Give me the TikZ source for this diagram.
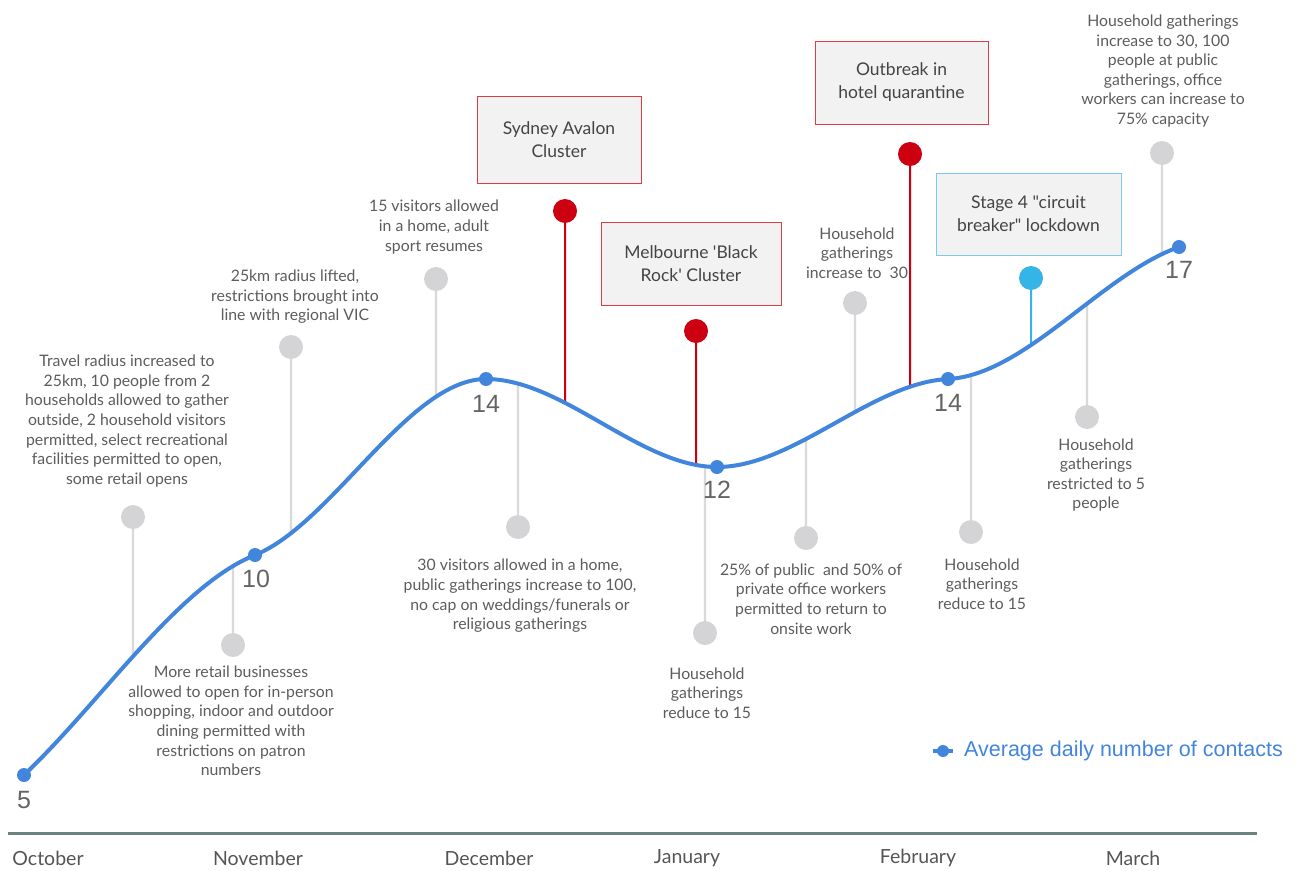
\documentclass[tikz,border=0pt]{standalone}
\usepackage{fontspec}
\setmainfont{Lato}[Ligatures=TeXOff]
\newfontfamily\arialf{Liberation Sans}
\usetikzlibrary{intersections}
\definecolor{annot}{RGB}{92,92,92}
\definecolor{gdotc}{RGB}{212,212,214}
\definecolor{gstemc}{RGB}{217,217,217}
\definecolor{redc}{RGB}{204,0,16}
\definecolor{redbox}{RGB}{224,60,69}
\definecolor{boxfill}{RGB}{242,242,242}
\definecolor{bluebox}{RGB}{124,200,238}
\definecolor{lblue}{RGB}{53,180,232}
\definecolor{curvec}{RGB}{66,133,221}
\definecolor{axisc}{RGB}{110,130,130}
\definecolor{valc}{RGB}{100,100,100}
\definecolor{monthc}{RGB}{85,85,85}
\definecolor{boxtext}{RGB}{68,68,68}
\tikzset{
  gdot/.style={circle,fill=gdotc,minimum size=24pt,inner sep=0},
  rdot/.style={circle,fill=redc,minimum size=24pt,inner sep=0},
  bdot/.style={circle,fill=lblue,minimum size=24pt,inner sep=0},
  gstem/.style={draw=gstemc,line width=2.4pt},
  rstem/.style={draw=redc,line width=2pt},
  bstem/.style={draw=lblue,line width=2pt},
  ann/.style={text=annot,font=\fontsize{15.8}{19.6}\selectfont,align=center,inner sep=0},
  evbox/.style={draw=redbox,fill=boxfill,line width=1pt,text=boxtext,align=center,font=\fontsize{17.5}{23}\selectfont,inner sep=0},
  val/.style={text=valc,font=\arialf\fontsize{25}{28}\selectfont,inner sep=0},
  month/.style={text=monthc,font=\fontsize{19.5}{22}\selectfont,inner sep=0},
  cdot/.style={circle,fill=curvec,minimum size=14pt,inner sep=0}
}
\begin{document}
\begin{tikzpicture}[x=1pt,y=-1pt]
\useasboundingbox (0,0) rectangle (1300,870);
% the curve path (named, drawn later)
\path[name path=curve] (24,775) .. controls (101,702) and (178,586) .. (255,555)
  .. controls (332,524) and (409,379) .. (486,379)
  .. controls (563,379) and (640,467) .. (717,467)
  .. controls (794,467) and (871,383) .. (948,379)
  .. controls (1025,375) and (1102,274) .. (1179,247);
\foreach \n/\x in {s1/133,s2/233,s3/291,s4/436,s5/518,s6/705,s7/806,s8/855,s9/971,s10/1087,s11/1162,r1/565,r2/696,r3/910,b1/1031}{
  \path[name path=vl] (\x,0) -- (\x,870);
  \path[name intersections={of=curve and vl, by={i\n}}];
}
% grey event circles
\node[gdot] (s1) at (133,517) {};
\node[gdot] (s2) at (233,645) {};
\node[gdot] (s3) at (291,347) {};
\node[gdot] (s4) at (436,279) {};
\node[gdot] (s5) at (518,527) {};
\node[gdot] (s6) at (705,633) {};
\node[gdot] (s7) at (806,538) {};
\node[gdot] (s8) at (855,303) {};
\node[gdot] (s9) at (971,532) {};
\node[gdot] (s10) at (1087,417) {};
\node[gdot] (s11) at (1162,153) {};
\node[rdot] (r1) at (565,211) {};
\node[rdot] (r2) at (696,331) {};
\node[rdot] (r3) at (910,154) {};
\node[bdot] (b1) at (1031,278) {};
\foreach \n in {s1,s2,s3,s4,s5,s6,s7,s8,s9,s10,s11}{\draw[gstem] (\n) -- (i\n);}
\foreach \n in {r1,r2,r3}{\draw[rstem] (\n) -- (i\n);}
\draw[bstem] (b1) -- (ib1);
% curve
\draw[curvec,line width=4pt,line cap=round] (24,775) .. controls (101,702) and (178,586) .. (255,555)
  .. controls (332,524) and (409,379) .. (486,379)
  .. controls (563,379) and (640,467) .. (717,467)
  .. controls (794,467) and (871,383) .. (948,379)
  .. controls (1025,375) and (1102,274) .. (1179,247);
\node[cdot] (d0) at (24,775) {};
\node[cdot] (d1) at (255,555) {};
\node[cdot] (d2) at (486,379) {};
\node[cdot] (d3) at (717,467) {};
\node[cdot] (d4) at (948,379) {};
\node[cdot] (d5) at (1179,247) {};
\node[val] (v0) at (24,800) {5};
\node[val] (v1) at (256,579) {10};
\node[val] (v2) at (486,404) {14};
\node[val] (v3) at (717,490) {12};
\node[val] (v4) at (948,403) {14};
\node[val] (v5) at (1179,270) {17};
% annotations
\node[ann] (t1) at (127,421) {Travel radius increased to\\25km, 10 people from 2\\households allowed to gather\\outside, 2 household visitors\\permitted, select recreational\\facilities permitted to open,\\some retail opens};
\node[ann] (t2) at (231,721) {More retail businesses\\allowed to open for in-person\\shopping, indoor and outdoor\\dining permitted with\\restrictions on patron\\numbers};
\node[ann] (t3) at (295,297) {25km radius lifted,\\restrictions brought into\\line with regional VIC};
\node[ann] (t4) at (434,227) {15 visitors allowed\\in a home, adult\\sport resumes};
\node[ann] (t5) at (520,596) {30 visitors allowed in a home,\\public gatherings increase to 100,\\no cap on weddings/funerals or\\religious gatherings};
\node[ann] (t6) at (707,693) {Household\\gatherings\\reduce to 15};
\node[ann] (t7) at (811,599) {25\% of public\ \ and 50\% of\\private office workers\\permitted to return to\\onsite work};
\node[ann] (t8) at (857,253) {Household\\gatherings\\increase to\ \ 30};
\node[ann] (t9) at (982,584) {Household\\gatherings\\reduce to 15};
\node[ann] (t10) at (1096,475) {Household\\gatherings\\restricted to 5\\people};
\node[ann] (t11) at (1163,71) {Household gatherings\\increase to 30, 100\\people at public\\gatherings, office\\workers can increase to\\75\% capacity};
% event boxes
\node[evbox,minimum width=164pt,minimum height=87pt] (e1) at (559,139.5) {Sydney Avalon\\Cluster};
\node[evbox,minimum width=180pt,minimum height=83pt] (e2) at (691,263.5) {Melbourne 'Black\\Rock' Cluster};
\node[evbox,minimum width=173pt,minimum height=83pt] (e3) at (901.5,82.5) {Outbreak in\\hotel quarantine};
\node[evbox,draw=bluebox,minimum width=185pt,minimum height=82pt] (e4) at (1028.5,214) {Stage 4 "circuit\\breaker" lockdown};
% axis
\coordinate (ax0) at (8,833);
\coordinate (ax1) at (1257,833);
\draw[axisc,line width=3pt] (ax0) -- (ax1);
\node[month] (m1) at (48,858) {October};
\node[month] (m2) at (258,858) {November};
\node[month] (m3) at (489,858) {December};
\node[month] (m4) at (687,858) {January};
\node[month] (m5) at (918,858) {February};
\node[month] (m6) at (1133,858) {March};
% legend
\coordinate (lg0) at (933,751);
\coordinate (lg1) at (953,751);
\draw[curvec,line width=4pt] (lg0) -- (lg1);
\node[circle,fill=curvec,minimum size=12pt,inner sep=0] (lgd) at (943,751) {};
\node[anchor=west,text=curvec,font=\arialf\fontsize{21.5}{24}\selectfont,inner sep=0] (lgt) at (964,751) {Average daily number of contacts};
\end{tikzpicture}
\end{document}
